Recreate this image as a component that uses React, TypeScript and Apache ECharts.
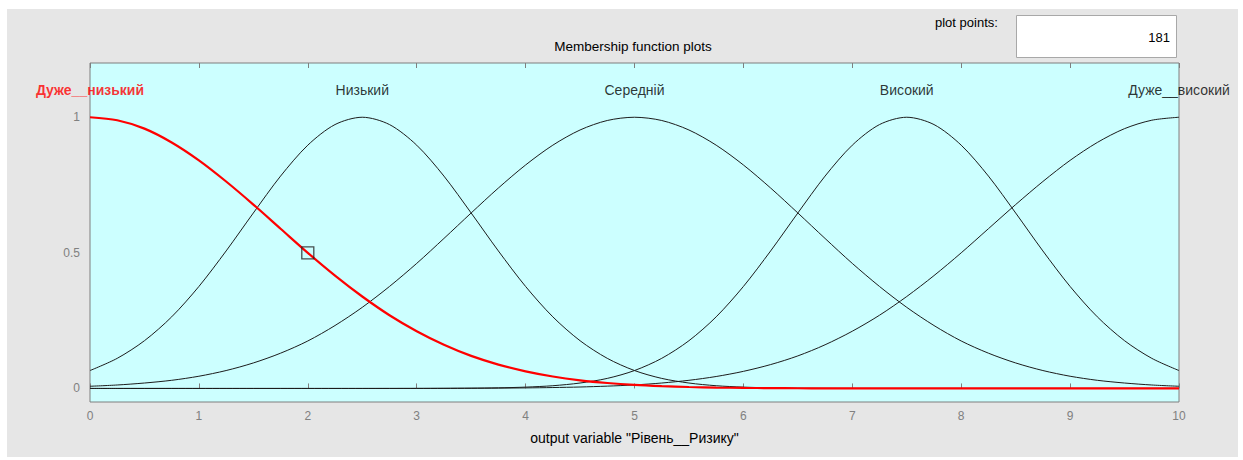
import React, { useEffect, useRef } from "react";
import * as echarts from "echarts";

// Sample positions on the universe of discourse (0..10)
const xValues = [
  0, 0.25, 0.5, 0.75, 1, 1.25, 1.5, 1.75, 2, 2.25, 2.5, 2.75, 3, 3.25, 3.5, 3.75, 4, 4.25, 4.5, 4.75, 5,
  5.25, 5.5, 5.75, 6, 6.25, 6.5, 6.75, 7, 7.25, 7.5, 7.75, 8, 8.25, 8.5, 8.75, 9, 9.25, 9.5, 9.75, 10,
];

// Membership degrees of each term at the sample positions
const veryLow = [
  1, 0.989, 0.958, 0.907, 0.841, 0.763, 0.678, 0.589, 0.5, 0.416, 0.339, 0.27, 0.211, 0.161, 0.12, 0.088, 0.063,
  0.044, 0.03, 0.02, 0.013, 0.0085, 0.0053, 0.0033, 0.002, 0.0012, 0.0007, 0.0004, 0.0002, 0.0001,
  0, 0, 0, 0, 0, 0, 0, 0, 0, 0, 0,
];
const low = [
  0.066, 0.111, 0.176, 0.264, 0.376, 0.507, 0.647, 0.783, 0.897, 0.973, 1, 0.973, 0.897, 0.783, 0.647, 0.507,
  0.376, 0.264, 0.176, 0.111, 0.066, 0.037, 0.02, 0.01, 0.0049, 0.0022, 0.001, 0.0004, 0.0001,
  0, 0, 0, 0, 0, 0, 0, 0, 0, 0, 0, 0,
];
const medium = [
  0.008, 0.0127, 0.02, 0.03, 0.045, 0.066, 0.094, 0.13, 0.175, 0.232, 0.299, 0.376, 0.461, 0.553, 0.647, 0.739,
  0.824, 0.897, 0.953, 0.988, 1, 0.988, 0.953, 0.897, 0.824, 0.739, 0.647, 0.553, 0.461, 0.376, 0.299, 0.232,
  0.175, 0.13, 0.094, 0.066, 0.045, 0.03, 0.02, 0.0127, 0.008,
];
const high = [
  0, 0, 0, 0, 0, 0, 0, 0, 0, 0, 0, 0,
  0.0001, 0.0004, 0.001, 0.0022, 0.0049, 0.01, 0.02, 0.037, 0.066, 0.111, 0.176, 0.264, 0.376, 0.507, 0.647,
  0.783, 0.897, 0.973, 1, 0.973, 0.897, 0.783, 0.647, 0.507, 0.376, 0.264, 0.176, 0.111, 0.066,
];
const veryHigh = [
  0, 0, 0, 0, 0, 0, 0, 0, 0, 0, 0,
  0.0001, 0.0002, 0.0004, 0.0007, 0.0012, 0.002, 0.0033, 0.0053, 0.0085, 0.013, 0.02, 0.03, 0.044, 0.063,
  0.088, 0.12, 0.161, 0.211, 0.27, 0.339, 0.416, 0.5, 0.589, 0.678, 0.763, 0.841, 0.907, 0.958, 0.989, 1,
];

// Term names and their centres (where each name is printed)
const termNames = ["Дуже__низький", "Низький", "Середній", "Високий", "Дуже__високий"];
const termCenters = [0, 2.5, 5, 7.5, 10];
const selectedTerm = 0;

// Selected point marker on the active curve
const markerPoint = [2, 0.5];

const yTickValues = [0, 0.5, 1];
const plotPoints = "181";

const FONT = "Liberation Sans, Arial, sans-serif";

const toPairs = (ys: number[]) => xValues.map((x, i) => [x, ys[i]]);

export default function App() {
  const ref = useRef<HTMLDivElement>(null);

  useEffect(() => {
    if (!ref.current) return;
    const chart = echarts.init(ref.current, undefined, { renderer: "svg" });

    const curves = [low, medium, high, veryHigh];
    const blackSeries = curves.map((ys, i) => ({
      type: "line",
      name: termNames[i + 1],
      data: toPairs(ys),
      smooth: 0.3,
      showSymbol: false,
      symbol: "none",
      lineStyle: { color: "#1c1c1c", width: 1 },
      z: 2,
    }));

    const option: any = {
      animation: false,
      backgroundColor: "transparent",
      textStyle: { fontFamily: FONT },
      grid: {
        left: 90,
        top: 63,
        right: 64,
        bottom: 58,
        show: true,
        backgroundColor: "#ccffff",
        borderColor: "#7f7f7f",
        borderWidth: 1,
      },
      xAxis: [
        {
          type: "value",
          min: 0,
          max: 10,
          interval: 1,
          position: "bottom",
          name: 'output variable "Рівень__Ризику"',
          nameLocation: "middle",
          nameGap: 29,
          nameTextStyle: { color: "#000", fontSize: 14, fontFamily: FONT },
          axisLine: { show: false },
          axisTick: { show: true, inside: true, length: 5, lineStyle: { color: "#7f7f7f" } },
          axisLabel: { color: "#808080", fontSize: 12, margin: 8, fontFamily: FONT },
          splitLine: { show: false },
        },
        {
          type: "value",
          min: 0,
          max: 10,
          interval: 1,
          position: "top",
          axisLine: { show: false },
          axisTick: { show: true, inside: true, length: 5, lineStyle: { color: "#7f7f7f" } },
          axisLabel: { show: false },
          splitLine: { show: false },
        },
      ],
      yAxis: {
        type: "value",
        min: -0.05,
        max: 1.2,
        axisLine: { show: false },
        axisTick: { show: false },
        splitLine: { show: false },
        axisLabel: {
          customValues: yTickValues,
          color: "#808080",
          fontSize: 12,
          margin: 10,
          fontFamily: FONT,
          formatter: (v: number) => String(v),
        },
      },
      graphic: [
        {
          type: "text",
          x: 633,
          y: 46,
          style: {
            text: "Membership function plots",
            fill: "#000",
            font: `13.5px ${FONT}`,
            textAlign: "center",
            textVerticalAlign: "middle",
          },
        },
        {
          type: "text",
          x: 935,
          y: 22,
          style: {
            text: "plot points:",
            fill: "#000",
            font: `13px ${FONT}`,
            textAlign: "left",
            textVerticalAlign: "middle",
          },
        },
        {
          type: "rect",
          shape: { x: 1016.5, y: 15.5, width: 160, height: 42 },
          style: { fill: "#ffffff", stroke: "#a8a8a8", lineWidth: 1 },
        },
        {
          type: "text",
          x: 1170,
          y: 37,
          style: {
            text: plotPoints,
            fill: "#000",
            font: `13px ${FONT}`,
            textAlign: "right",
            textVerticalAlign: "middle",
          },
        },
      ],
      series: [
        ...blackSeries,
        {
          type: "line",
          name: termNames[selectedTerm],
          data: toPairs(veryLow),
          smooth: 0.3,
          showSymbol: false,
          symbol: "none",
          lineStyle: { color: "#ff0000", width: 2.2 },
          z: 3,
        },
        {
          type: "scatter",
          data: [markerPoint],
          symbol: "rect",
          symbolSize: 12,
          itemStyle: { color: "rgba(0,0,0,0)", borderColor: "#222", borderWidth: 1.3 },
          z: 4,
        },
        {
          type: "scatter",
          clip: false,
          symbolSize: 0,
          z: 5,
          data: termCenters.map((c, i) => ({
            value: [c, 1.1],
            label: {
              show: true,
              position: "inside",
              formatter: termNames[i],
              color: i === selectedTerm ? "#ff0000" : "#000",
              fontWeight: i === selectedTerm ? "bold" : "normal",
              fontSize: 14,
              fontFamily: FONT,
            },
          })),
        },
      ],
    };

    chart.setOption(option);
    return () => chart.dispose();
  }, []);

  return (
    <div style={{ position: "fixed", left: 0, top: 0, width: 1243, height: 460, background: "#ffffff" }}>
      <div style={{ position: "absolute", left: 7, top: 9, width: 1231, height: 448, background: "#e6e6e6" }} />
      <div ref={ref} style={{ position: "absolute", left: 0, top: 0, width: 1243, height: 460 }} />
    </div>
  );
}
